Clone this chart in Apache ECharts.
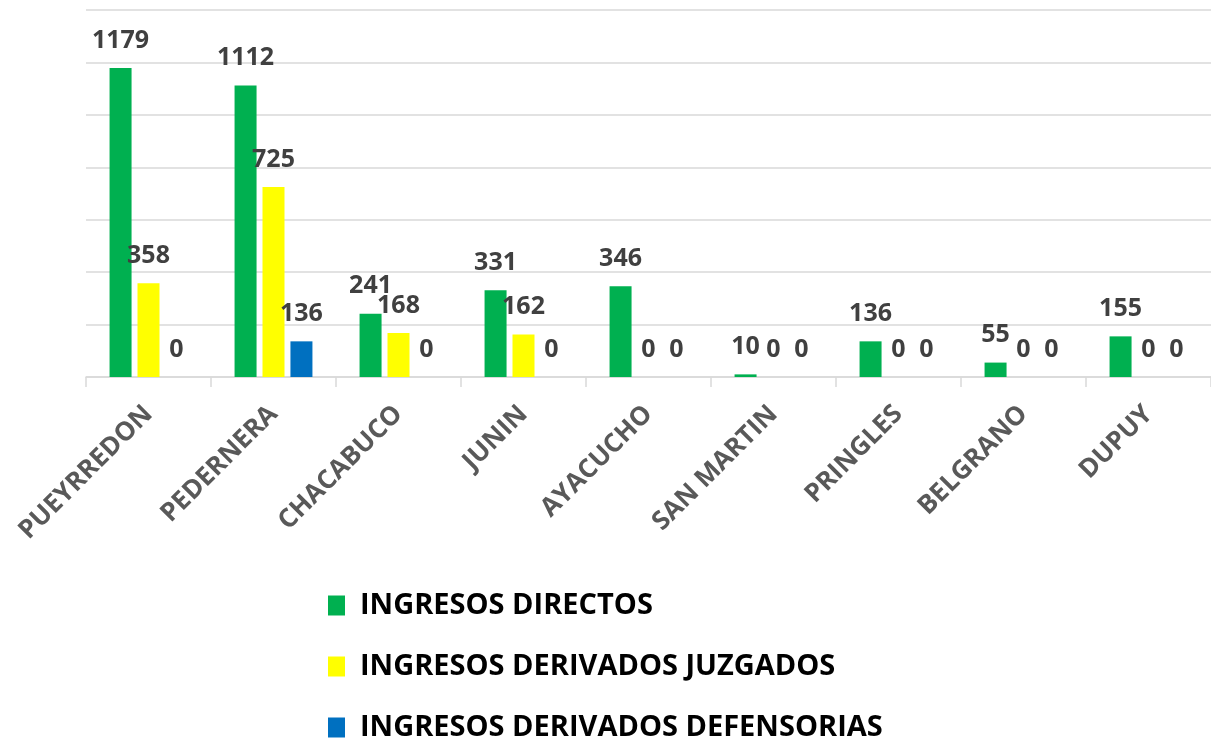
<!DOCTYPE html>
<html>
<head>
<meta charset="utf-8">
<script src="https://cdn.jsdelivr.net/npm/echarts@6/dist/echarts.min.js"></script>
<style>
	html, body { margin: 0; padding: 0; background: #fff; }
	#chart { width: 1211px; height: 741px; }
</style>
</head>
<body>
<div id="chart"></div>
<script>
	// datos del gráfico
	let categorias = ['PUEYRREDON', 'PEDERNERA', 'CHACABUCO', 'JUNIN', 'AYACUCHO', 'SAN MARTIN', 'PRINGLES', 'BELGRANO', 'DUPUY'];
	let ingresosDirectos = [1179, 1112, 241, 331, 346, 10, 136, 55, 155];
	let derivadosJuzgados = [358, 725, 168, 162, 0, 0, 0, 0, 0];
	let derivadosDefensorias = [0, 136, 0, 0, 0, 0, 0, 0, 0];
	let nombres = ['INGRESOS DIRECTOS', 'INGRESOS DERIVADOS JUZGADOS', 'INGRESOS DERIVADOS DEFENSORIAS'];
	let colores = ['#00b050', '#ffff00', '#0070c0'];

	let fuente = 'Open Sans';
	let etiqueta = {
		show: true,
		position: 'top',
		distance: 15,
		color: '#404040',
		fontFamily: fuente,
		fontWeight: 'bold',
		fontSize: 25
	};

	let serie = (nombre, datos, i) => ({
		name: nombre,
		type: 'bar',
		data: datos,
		barWidth: 22,
		barGap: '27%',
		itemStyle: { color: colores[i] },
		label: etiqueta
	});

	let chart = echarts.init(document.getElementById('chart'), null, { renderer: 'canvas' });
	chart.setOption({
		animation: false,
		grid: { left: 86, top: 10, width: 1138, height: 367, containLabel: false },
		legend: {
			orient: 'vertical',
			left: 323,
			top: 586,
			height: 200,
			itemWidth: 17,
			itemHeight: 20,
			itemGap: 32,
			icon: 'rect',
			textStyle: {
				fontFamily: fuente,
				fontWeight: 'bold',
				fontSize: 29,
				color: '#000',
				padding: [0, 0, 0, 10]
			},
			data: nombres
		},
		xAxis: {
			type: 'category',
			data: categorias,
			axisLine: { lineStyle: { color: '#d9d9d9', width: 1.5 } },
			axisTick: { show: true, length: 10, lineStyle: { color: '#d9d9d9', width: 1.5 } },
			axisLabel: {
				rotate: 45,
				margin: 33,
				interval: 0,
				color: '#595959',
				fontFamily: fuente,
				fontWeight: 'bold',
				fontSize: 26
			}
		},
		yAxis: {
			type: 'value',
			min: 0,
			max: 1400,
			interval: 200,
			axisLabel: { show: false },
			axisLine: { show: false },
			axisTick: { show: false },
			splitLine: { lineStyle: { color: '#d9d9d9', width: 1.5 } }
		},
		series: [
			serie(nombres[0], ingresosDirectos, 0),
			serie(nombres[1], derivadosJuzgados, 1),
			serie(nombres[2], derivadosDefensorias, 2)
		]
	});
</script>
</body>
</html>
